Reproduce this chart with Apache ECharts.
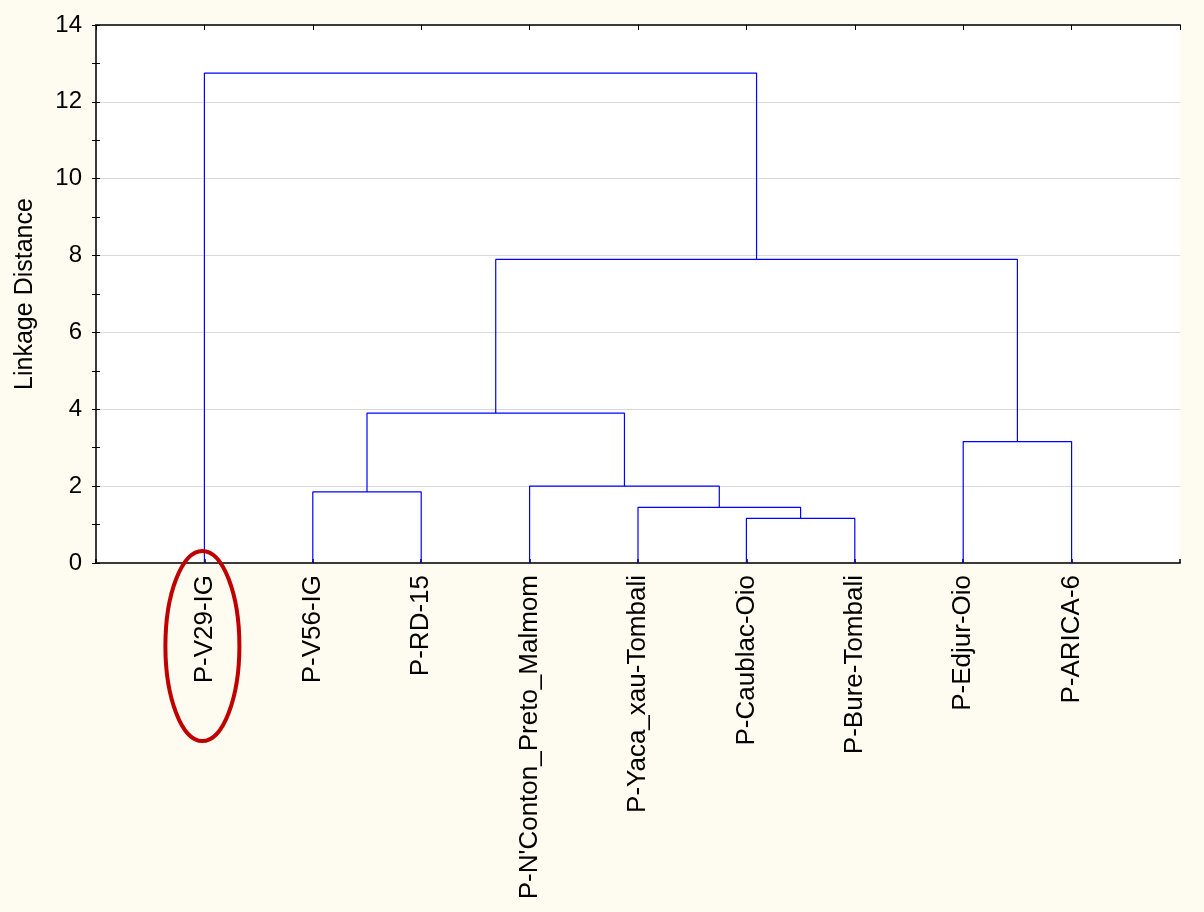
<!DOCTYPE html>
<html>
<head>
<meta charset="utf-8">
<script src="https://cdn.jsdelivr.net/npm/echarts@6/dist/echarts.min.js"></script>
<style>
html,body{margin:0;padding:0;background:#FEFBF0;}
#c{width:1204px;height:912px;}
</style>
</head>
<body>
<div id="c"></div>
<script>
// Leaves in dendrogram order
var leaves = ['P-V29-IG','P-V56-IG','P-RD-15',"P-N'Conton_Preto_Malmom",'P-Yaca_xau-Tombali','P-Caublac-Oio','P-Bure-Tombali','P-Edjur-Oio','P-ARICA-6'];
// Merges: children are leaf indices (0-based) or 'c'+k for earlier cluster k
var mergeLeft   = [5,   4,    3,    1,    'c3', 7,    'c4', 0   ];
var mergeRight  = [6,   'c0', 'c1', 2,    'c2', 8,    'c5', 'c6'];
var mergeHeight = [1.16, 1.45, 2.00, 1.85, 3.90, 3.16, 7.90, 12.75];
var yTicks = [0, 2, 4, 6, 8, 10, 12, 14];

var chart = echarts.init(document.getElementById('c'));

var clusterPos = [], clusterH = [];
function node(n){
  if (typeof n === 'number') return {x: n + 1, h: 0};
  var k = +n.slice(1);
  return {x: clusterPos[k], h: clusterH[k]};
}
var series = [];
for (var i = 0; i < mergeHeight.length; i++) {
  var a = node(mergeLeft[i]), b = node(mergeRight[i]), h = mergeHeight[i];
  clusterPos.push((a.x + b.x) / 2);
  clusterH.push(h);
  series.push({
    type: 'line', xAxisIndex: 0, yAxisIndex: 0,
    data: [[a.x, a.h], [a.x, h], [b.x, h], [b.x, b.h]],
    symbol: 'none', silent: true, animation: false,
    lineStyle: {color: '#0000FF', width: 1.2}, z: 5
  });
}

var font = 'Liberation Sans, Arial, sans-serif';
chart.setOption({
  backgroundColor: '#FEFBF0',
  animation: false,
  grid: {left: 96, right: 24, top: 25, bottom: 349, show: true, backgroundColor: '#FFFFFF', borderWidth: 0},
  xAxis: [{
    type: 'value', min: 0, max: leaves.length + 1, interval: 1, position: 'bottom',
    axisLine: {show: true, lineStyle: {color: '#3a3a3a', width: 2}},
    axisTick: {show: true, inside: true, length: 4, lineStyle: {color: '#000', width: 1.5}},
    splitLine: {show: false},
    axisLabel: {
      rotate: 90, margin: 12, fontSize: 26, color: '#000', fontFamily: font,
      formatter: function(v){ return (v >= 1 && v <= leaves.length) ? leaves[v - 1] : ''; }
    }
  }, {
    type: 'value', min: 0, max: leaves.length + 1, interval: 1, position: 'top',
    axisLine: {show: true, onZero: false, lineStyle: {color: '#3a3a3a', width: 2}},
    axisTick: {show: true, inside: true, length: 5, lineStyle: {color: '#000', width: 1}},
    axisLabel: {show: false}, splitLine: {show: false}
  }],
  yAxis: [{
    type: 'value', min: 0, max: 14, interval: 2,
    name: 'Linkage Distance', nameLocation: 'middle', nameGap: 58, nameRotate: 90,
    nameTextStyle: {fontSize: 25, color: '#000', fontFamily: font},
    axisLine: {show: true, lineStyle: {color: '#3a3a3a', width: 2}},
    axisTick: {show: true, inside: true, length: 4, lineStyle: {color: '#000', width: 1}},
    minorTick: {show: true, splitNumber: 2, length: 4, lineStyle: {color: '#000', width: 1}},
    splitLine: {show: true, lineStyle: {color: '#d9d9d9', width: 1}},
    axisLabel: {fontSize: 24, color: '#000', fontFamily: font, margin: 14,
      formatter: function(v){ return yTicks.indexOf(v) >= 0 ? String(v) : ''; }}
  }, {
    type: 'value', min: 0, max: 14, interval: 2, position: 'right',
    axisLine: {show: true, lineStyle: {color: '#3a3a3a', width: 2}},
    axisTick: {show: true, inside: true, length: 4, lineStyle: {color: '#000', width: 1}},
    minorTick: {show: true, splitNumber: 2, length: 4, lineStyle: {color: '#000', width: 1}},
    axisLabel: {show: false}, splitLine: {show: false}
  }],
  series: series
});

// Red ellipse annotation around the first leaf label
var p = chart.convertToPixel({xAxisIndex: 0, yAxisIndex: 0}, [1, 0]);
chart.setOption({
  graphic: [{
    type: 'ellipse', z: 100,
    shape: {cx: p[0] - 2, cy: p[1] + 83, rx: 37, ry: 95},
    style: {fill: 'none', stroke: '#C00000', lineWidth: 4}
  }]
});
</script>
</body>
</html>
